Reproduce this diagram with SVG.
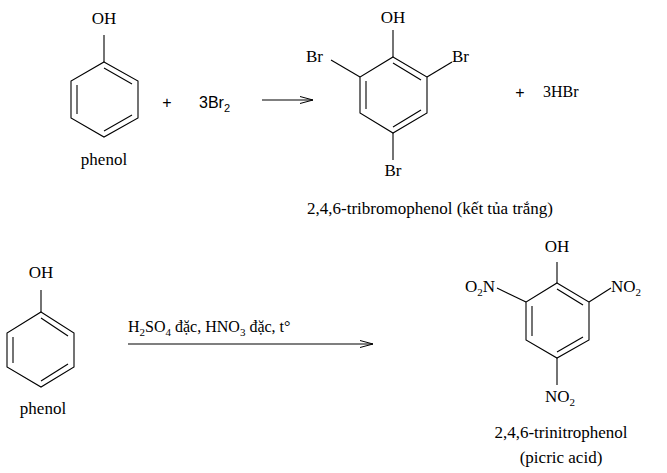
<svg xmlns="http://www.w3.org/2000/svg" width="667" height="473" viewBox="0 0 667 473">
<style>
line,polyline,polygon{stroke:#000;stroke-width:1.1;fill:none}
.m{text-anchor:middle}
</style>
<defs>
<marker id="ah" markerWidth="14" markerHeight="8" refX="13" refY="4" orient="auto" markerUnits="userSpaceOnUse"><polyline points="0,0.5 13,4 0,7.5" style="stroke:#000;fill:none;stroke-width:1"/></marker>
</defs>
<rect width="667" height="473" fill="#fff"/>
<g style="font-family:'Liberation Serif','Times New Roman',serif;font-size:17px;fill:#000">
<g id="phenol1">
<text x="104" y="24" class="m">OH</text>
<line x1="104" y1="35" x2="104" y2="62"/>
<polygon points="104,62 138,81 138,118 104,137 71,118 71,81"/>
<line x1="104" y1="68" x2="132" y2="84"/><line x1="77" y1="85" x2="77" y2="114"/><line x1="104" y1="131" x2="132" y2="115"/>
<text x="104" y="165" class="m">phenol</text>
</g>
<g id="plus1"><text x="167" y="108" class="m" style="font-family:'Liberation Sans',Arial,sans-serif;font-size:16px">+</text></g>
<g id="br2"><text x="199" y="108" style="font-family:'Liberation Sans',Arial,sans-serif;font-size:16px">3Br<tspan style="font-size:11px" dy="4">2</tspan></text></g>
<g id="tribromophenol">
<text x="393" y="23" class="m">OH</text>
<line x1="393" y1="30" x2="393" y2="57"/>
<polygon points="393,57 427,77 427,113 393,133 360,113 360,77"/>
<line x1="393" y1="63" x2="421" y2="80"/><line x1="366" y1="81" x2="366" y2="109"/><line x1="393" y1="127" x2="421" y2="110"/>
<text x="306" y="62">Br</text><line x1="331" y1="60" x2="360" y2="77"/>
<text x="452" y="62">Br</text><line x1="427" y1="77" x2="452" y2="62"/>
<text x="393" y="176" class="m">Br</text><line x1="393" y1="133" x2="393" y2="160"/>
<text x="430" y="214" class="m">2,4,6-tribromophenol (kết tủa trắng)</text>
</g>
<g id="plus2"><text x="520" y="98" class="m" style="font-family:'Liberation Sans',Arial,sans-serif;font-size:16px">+</text></g>
<g id="hbr"><text x="543" y="97" style="font-size:16px">3HBr</text></g>
<g id="phenol2">
<text x="41" y="278" class="m">OH</text>
<line x1="41" y1="290" x2="41" y2="312"/>
<polygon points="41,312 74,333 74,367 41,387 7,367 7,333"/>
<line x1="41" y1="318" x2="68" y2="336"/><line x1="13" y1="337" x2="13" y2="363"/><line x1="41" y1="381" x2="68" y2="364"/>
<text x="43" y="414" class="m">phenol</text>
</g>
<g id="picric">
<text x="557" y="252" class="m">OH</text>
<line x1="557" y1="262" x2="557" y2="283"/>
<polygon points="557,283 589,302 589,340 557,358 526,340 526,302"/>
<line x1="557" y1="289" x2="583" y2="305"/><line x1="532" y1="306" x2="532" y2="336"/><line x1="557" y1="352" x2="583" y2="337"/>
<text x="495" y="292" text-anchor="end">O<tspan style="font-size:11px" dy="4">2</tspan><tspan dy="-4">N</tspan></text>
<line x1="497" y1="288" x2="526" y2="302"/>
<text x="611" y="292">NO<tspan style="font-size:11px" dy="4">2</tspan></text>
<line x1="589" y1="302" x2="611" y2="288"/>
<text x="545" y="402">NO<tspan style="font-size:11px" dy="4">2</tspan></text>
<line x1="557" y1="358" x2="557" y2="385"/>
<text x="561" y="438" class="m">2,4,6-trinitrophenol</text>
<text x="561" y="463" class="m">(picric acid)</text>
</g>
<g id="connectors">
<line x1="262" y1="100" x2="313" y2="100" marker-end="url(#ah)"/>
<line x1="128" y1="344" x2="373" y2="344" marker-end="url(#ah)"/>
<text x="128" y="332" style="font-size:16px">H<tspan style="font-size:11px" dy="4">2</tspan><tspan dy="-4">SO</tspan><tspan style="font-size:11px" dy="4">4</tspan><tspan dy="-4"> đặc, HNO</tspan><tspan style="font-size:11px" dy="4">3</tspan><tspan dy="-4"> đặc, t°</tspan></text>
</g>
</g>
</svg>
